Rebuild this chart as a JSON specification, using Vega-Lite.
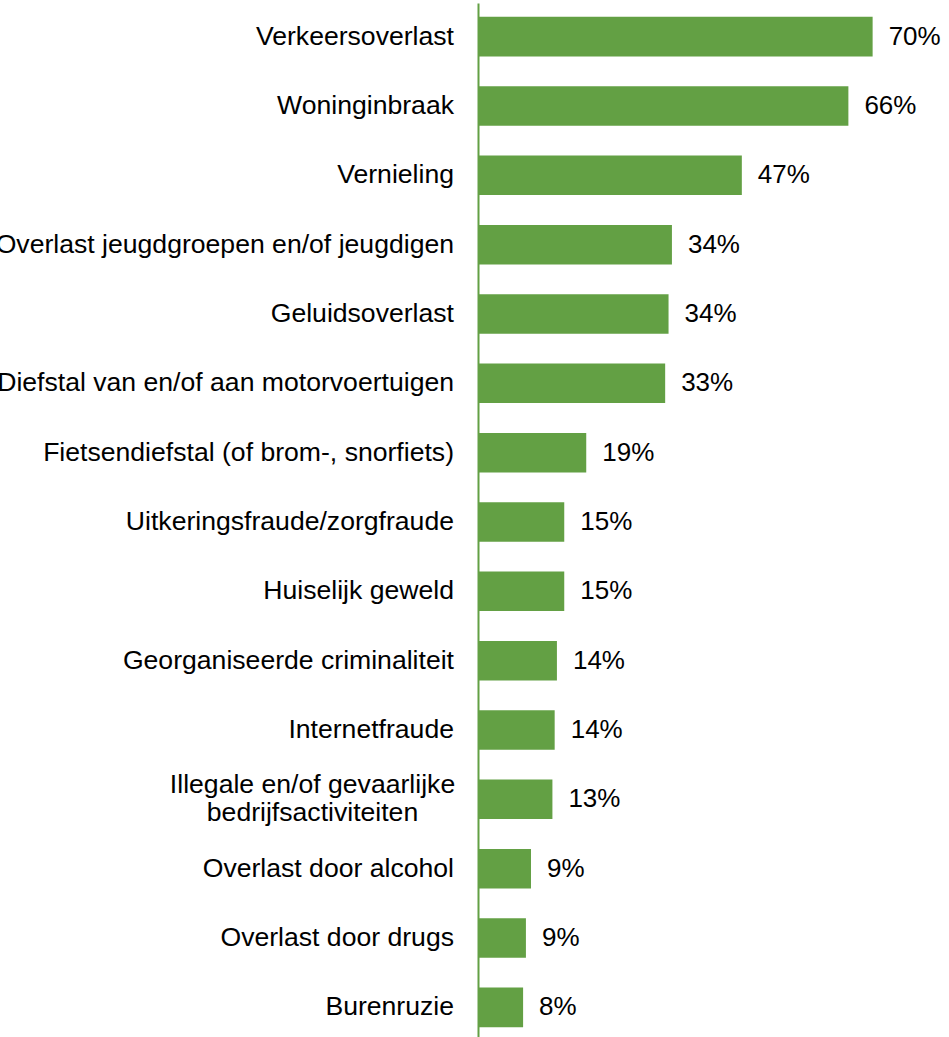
{
  "$schema": "https://vega.github.io/schema/vega-lite/v6.json",
  "autosize": {"type": "none"},
  "padding": {"left": 478, "top": 3, "right": 20, "bottom": 0},
  "width": 451,
  "height": 1038,
  "background": "white",
  "config": {
    "view": {"stroke": null},
    "font": "Liberation Sans"
  },
  "data": {
    "values": [
      {"categorie": "Verkeersoverlast", "aandeel": 0.700},
      {"categorie": "Woninginbraak", "aandeel": 0.657},
      {"categorie": "Vernieling", "aandeel": 0.468},
      {"categorie": "Overlast jeugdgroepen en/of jeugdigen", "aandeel": 0.344},
      {"categorie": "Geluidsoverlast", "aandeel": 0.338},
      {"categorie": "Diefstal van en/of aan motorvoertuigen", "aandeel": 0.332},
      {"categorie": "Fietsendiefstal (of brom-, snorfiets)", "aandeel": 0.192},
      {"categorie": "Uitkeringsfraude/zorgfraude", "aandeel": 0.153},
      {"categorie": "Huiselijk geweld", "aandeel": 0.153},
      {"categorie": "Georganiseerde criminaliteit", "aandeel": 0.140},
      {"categorie": "Internetfraude", "aandeel": 0.136},
      {"categorie": "Illegale en/of gevaarlijke bedrijfsactiviteiten", "aandeel": 0.132},
      {"categorie": "Overlast door alcohol", "aandeel": 0.094},
      {"categorie": "Overlast door drugs", "aandeel": 0.085},
      {"categorie": "Burenruzie", "aandeel": 0.080}
    ]
  },
  "encoding": {
    "y": {
      "field": "categorie",
      "type": "nominal",
      "sort": null,
      "scale": {"paddingInner": 0.43, "paddingOuter": 0.2},
      "axis": {
        "title": null,
        "ticks": false,
        "domainColor": "#63A044",
        "domainWidth": 2,
        "labelFont": "Liberation Sans",
        "labelFontSize": 26.6,
        "labelColor": "#000000",
        "labelLimit": 0,
        "labelLineHeight": 28,
        "labelAlign": {"condition": {"test": "datum.value == 'Illegale en/of gevaarlijke bedrijfsactiviteiten'", "value": "center"}, "value": "right"},
        "labelPadding": {"condition": {"test": "datum.value == 'Illegale en/of gevaarlijke bedrijfsactiviteiten'", "value": 166}, "value": 24.5},
        "labelOffset": {"condition": {"test": "datum.value == 'Illegale en/of gevaarlijke bedrijfsactiviteiten'", "value": -14}, "value": 0},
        "labelExpr": "datum.value == 'Illegale en/of gevaarlijke bedrijfsactiviteiten' ? ['Illegale en/of gevaarlijke', 'bedrijfsactiviteiten'] : datum.value"
      }
    },
    "x": {
      "field": "aandeel",
      "type": "quantitative",
      "scale": {"domain": [0, 0.8]},
      "axis": null
    }
  },
  "layer": [
    {
      "mark": {"type": "bar", "color": "#63A044"}
    },
    {
      "mark": {
        "type": "text",
        "align": "left",
        "baseline": "middle",
        "dx": 16,
        "fontSize": 26,
        "font": "Liberation Sans",
        "color": "#000000"
      },
      "encoding": {
        "text": {"field": "aandeel", "type": "quantitative", "format": ".0%"}
      }
    }
  ]
}
